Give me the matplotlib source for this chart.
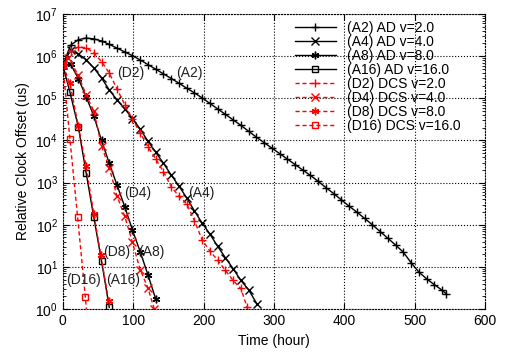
import matplotlib
matplotlib.use("Agg")
import matplotlib.pyplot as plt
from matplotlib.ticker import LogLocator, NullFormatter

plt.rcParams['font.family'] = ['Liberation Sans', 'DejaVu Sans']
plt.rcParams['mathtext.fontset'] = 'custom'
plt.rcParams['mathtext.rm'] = 'Liberation Sans'

# ---- data (hours, log10 of offset in us) ----
t_a2 = [0, 11, 22, 33, 44, 55, 66, 77, 88, 99, 110, 121, 132, 143, 154, 165, 176,
        187, 198, 209, 220, 231, 242, 253, 264, 275, 286, 297, 308, 319, 330, 341,
        352, 363, 374, 385, 396, 407, 418, 429, 440, 451, 462, 473, 484, 495, 506,
        517, 528, 539, 545]
lg_a2 = [5.78, 6.26, 6.39, 6.43, 6.41, 6.36, 6.28, 6.19, 6.10, 6.01, 5.91, 5.80,
         5.69, 5.58, 5.47, 5.36, 5.24, 5.13, 5.01, 4.88, 4.75, 4.62, 4.49, 4.36,
         4.22, 4.08, 3.95, 3.82, 3.69, 3.56, 3.43, 3.30, 3.17, 3.03, 2.88, 2.74,
         2.59, 2.44, 2.30, 2.15, 2.00, 1.84, 1.68, 1.52, 1.35, 1.10, 0.88, 0.72,
         0.58, 0.45, 0.36]

t_a4 = [0, 11, 22, 33, 44, 55, 66, 77, 88, 99, 110, 121, 132, 143, 154, 165, 176,
        187, 198, 209, 220, 231, 242, 253, 264, 276]
lg_a4 = [5.78, 6.15, 6.05, 5.92, 5.72, 5.48, 5.20, 4.96, 4.75, 4.52, 4.27, 3.98,
         3.72, 3.46, 3.18, 2.92, 2.64, 2.33, 2.04, 1.78, 1.49, 1.22, 0.96, 0.68,
         0.46, 0.12]

t_a8 = [0, 11, 22, 33, 44, 55, 66, 77, 88, 99, 110, 121, 132]
lg_a8 = [5.78, 5.81, 5.47, 5.04, 4.58, 4.00, 3.46, 2.94, 2.43, 1.87, 1.36, 0.81, 0.24]

t_a16 = [0, 10, 22, 33, 44, 55, 66]
lg_a16 = [5.78, 5.15, 4.32, 3.24, 2.18, 1.14, 0.04]

t_d2 = [0, 11, 22, 33, 44, 55, 66, 77, 88, 99, 110, 121, 132, 143, 154, 165, 176,
        187, 198, 209, 220, 231, 242, 253, 262]
lg_d2 = [5.78, 6.12, 6.22, 6.20, 6.08, 5.87, 5.60, 5.22, 4.85, 4.50, 4.18, 3.85,
         3.56, 3.26, 2.90, 2.68, 2.50, 2.10, 1.64, 1.38, 1.16, 0.92, 0.68, 0.49,
         0.04]

t_d4 = [0, 8, 22, 33, 44, 55, 66, 77, 88, 99, 110, 121, 130]
lg_d4 = [5.78, 5.95, 5.55, 5.08, 4.70, 3.87, 3.35, 2.68, 2.20, 1.58, 0.93, 0.50, 0.0]

t_d8 = [0, 10, 22, 33, 44, 54, 65]
lg_d8 = [5.78, 5.36, 4.34, 3.39, 2.25, 1.28, 0.20]

t_d16 = [0, 10, 21, 32, 33.5]
lg_d16 = [5.78, 4.04, 2.18, 0.28, 0.0]

labels = ['(A2) AD v=2.0', '(A4) AD v=4.0', '(A8) AD v=8.0', '(A16) AD v=16.0',
          '(D2) DCS v=2.0', '(D4) DCS v=4.0', '(D8) DCS v=8.0', '(D16) DCS v=16.0']

series = [(t_a2, lg_a2), (t_a4, lg_a4), (t_a8, lg_a8), (t_a16, lg_a16),
          (t_d2, lg_d2), (t_d4, lg_d4), (t_d8, lg_d8), (t_d16, lg_d16)]
markers = ['+', 'x', (6, 2, 0), 's', '+', 'x', (6, 2, 0), 's']

fig = plt.figure(figsize=(5.11, 3.59), dpi=100)
ax = fig.add_axes([0.123, 0.139, 0.826, 0.822])

for i, ((t, lg), lab) in enumerate(zip(series, labels)):
    color = 'black' if i < 4 else 'red'
    y = [10 ** v for v in lg]
    # last point of D16 is only where the line leaves the plot
    mk = list(range(len(t) - 1)) if i == 7 else None
    ax.plot(t, y, color=color, linewidth=1.0, marker=markers[i],
            markersize=5.5 if markers[i] != 's' else 5, markerfacecolor='none',
            markeredgecolor=color, markeredgewidth=1.0, markevery=mk, label=lab,
            linestyle=(0, (3, 2)) if i >= 4 else '-')

ax.set_yscale('log')
ax.set_xlim(0, 600)
ax.set_ylim(1, 1e7)
ax.set_xticks([0, 100, 200, 300, 400, 500, 600])
ax.yaxis.set_major_locator(LogLocator(base=10, numticks=10))
ax.yaxis.set_minor_locator(LogLocator(base=10, subs=range(2, 10), numticks=20))
ax.yaxis.set_minor_formatter(NullFormatter())
ax.tick_params(which='both', direction='in', top=True, right=True, labelsize=10)
ax.tick_params(which='major', length=4)
ax.tick_params(which='minor', length=2)
ax.grid(True, which='major', color='black', linestyle=':', linewidth=0.8)
for sp in ax.spines.values():
    sp.set_linestyle(':')
    sp.set_linewidth(0.8)

ax.set_xlabel('Time (hour)', fontsize=10)
ax.set_ylabel('Relative Clock Offset (us)', fontsize=10)

annot = [('(D2)', 97, 5.6), ('(A2)', 180, 5.6), ('(D4)', 107, 2.75),
         ('(A4)', 197, 2.75), ('(D8)', 76, 1.35), ('(A8)', 126, 1.35),
         ('(D16)', 29, 0.69), ('(A16)', 86, 0.69)]
for txt, x, lg in annot:
    ax.text(x, 10 ** lg, txt, ha='center', va='center', fontsize=10, color='#222222')

leg = ax.legend(loc='upper right', frameon=False, fontsize=10, handlelength=2.9,
                handletextpad=0.8, labelspacing=0.0, borderaxespad=0.1,
                bbox_to_anchor=(0.958, 1.0))

fig.savefig('out.png', dpi=100)
